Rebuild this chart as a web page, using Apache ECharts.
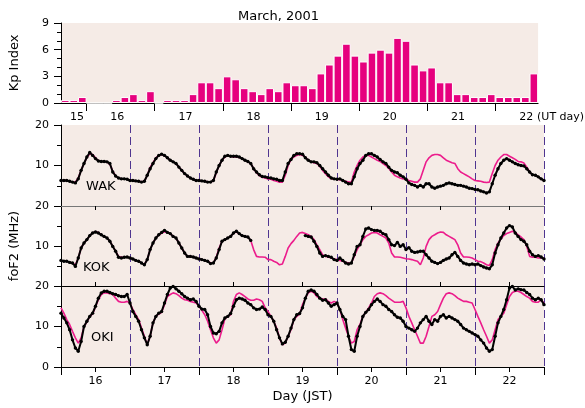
<!DOCTYPE html>
<html><head><meta charset="utf-8">
<script src="https://cdn.jsdelivr.net/npm/echarts@6/dist/echarts.min.js"></script>
<style>html,body{margin:0;padding:0;background:#fff}#c{width:585px;height:408px}</style>
</head><body><div id="c"></div>
<script>
// Kp index, 3-hour values, starting UT day 15 15h
const kpDays = ['15','16','17','18','19','20','21','22'];
const kpValues = [
 0.33,0.33,0.67,
 0,0,0,0.33,0.67,1.0,0.33,1.33,
 0,0.33,0.33,0.33,1.0,2.33,2.33,1.67,
 3.0,2.67,1.67,1.33,1.0,1.67,1.33,2.33,
 2.0,2.0,1.67,3.33,4.33,5.33,6.67,5.33,
 4.67,5.67,6.0,5.67,7.33,7.0,4.33,3.67,
 4.0,2.33,2.33,1.0,1.0,0.67,0.67,1.0,
 0.67,0.67,0.67,0.67,3.33
];
// foF2 (MHz), hourly, JST day 16 00h ... day 23 00h
const jstDays = ['16','17','18','19','20','21','22'];
const wakObs = [
 6.3,6.3,6.3,6.1,5.9,5.7,6.7,8.8,10.5,12.1,13.2,12.5,11.7,11.1,11.0,11.0,10.9,10.5,8.4,7.4,6.9,6.7,6.7,6.6,
 6.3,6.3,6.2,6.1,5.9,6.1,7.6,9.2,10.5,11.7,12.5,12.8,12.5,11.9,11.3,10.9,10.5,9.6,8.8,8.0,7.4,6.9,6.6,6.3,
 6.3,6.2,6.1,5.9,5.9,6.3,8.4,10.0,11.3,12.3,12.5,12.3,12.3,12.3,12.1,11.7,11.3,11.0,10.5,9.2,8.4,7.7,7.3,7.2,
 7.0,6.9,6.7,6.6,6.3,6.3,8.4,10.5,11.5,12.5,12.9,12.9,12.8,11.9,11.3,10.9,10.9,10.7,10.0,9.2,8.4,7.6,6.9,6.7,
 6.6,6.7,6.3,5.9,5.5,5.5,7.2,9.2,10.5,11.3,12.5,12.9,12.9,12.5,12.1,11.5,10.9,10.5,9.6,8.8,8.4,8.2,7.6,7.2,
 6.6,5.7,5.3,5.1,4.7,5.1,4.7,5.5,5.5,4.7,4.4,4.7,4.9,5.1,5.5,5.7,5.5,5.3,5.1,5.1,4.9,4.7,4.4,4.3,
 4.1,4.0,3.7,3.5,3.2,3.5,5.5,7.6,9.2,10.5,11.3,11.7,11.3,10.9,10.5,10.2,10.0,9.9,9.2,8.4,7.7,7.6,7.2,6.7,6.3
];
const wakModel = [
 6.3,6.3,6.3,6.1,5.9,5.9,6.9,8.8,10.5,12.0,12.9,12.7,11.9,11.1,11.0,11.0,10.9,10.3,8.6,7.4,6.9,6.7,6.7,6.6,
 6.4,6.3,6.2,6.1,6.0,6.1,7.6,9.5,10.7,11.9,12.5,12.7,12.4,11.9,11.3,10.9,10.5,9.6,8.8,8.0,7.4,6.9,6.6,6.4,
 6.3,6.2,6.1,6.0,5.9,6.2,8.2,10.0,11.3,12.1,12.5,12.3,12.1,12.1,12.0,11.7,11.3,10.9,10.5,9.2,8.2,7.5,7.1,6.9,
 6.7,6.6,6.3,6.1,5.9,5.9,7.6,10.0,11.5,12.1,12.5,12.7,12.5,12.1,11.3,10.9,10.7,10.5,9.8,8.8,8.0,7.2,6.8,6.6,
 6.6,6.5,6.3,6.1,5.9,5.9,8.4,10.0,11.3,12.1,12.5,12.5,12.1,11.7,11.3,11.0,10.5,10.0,9.3,8.4,7.6,7.2,6.9,6.7,
 6.6,6.3,6.1,5.9,5.9,6.7,8.8,10.9,11.9,12.5,12.7,12.7,12.5,11.9,11.3,11.0,10.7,10.5,9.2,8.4,8.0,7.6,7.2,6.7,
 6.3,6.2,6.1,5.9,5.8,5.9,8.0,10.0,11.3,12.1,12.7,12.7,12.3,11.9,11.5,11.0,10.9,10.6,9.6,8.4,7.7,7.6,7.2,6.7,6.3
];
const kokObs = [
 6.4,6.2,6.2,5.9,5.75,4.9,7.0,9.5,10.75,11.6,12.6,13.25,13.5,13.25,12.8,12.4,12.0,11.2,9.9,8.7,7.2,7.0,7.2,7.25,
 7.0,6.75,6.4,6.2,5.75,5.3,6.6,9.1,10.75,12.0,12.8,13.4,13.9,13.4,13.1,12.4,12.0,10.75,9.5,8.25,7.4,7.4,7.25,7.0,
 6.75,6.6,6.4,6.2,5.6,5.75,7.0,9.1,11.2,11.6,12.0,12.4,13.25,13.7,13.1,12.6,12.4,12.25,11.4,null,null,null,null,null,
 null,null,null,null,null,null,null,null,null,null,null,null,null,12.6,12.4,12.25,11.2,9.9,8.25,7.4,7.6,7.4,7.2,6.6,
 6.4,7.0,6.4,5.75,5.5,5.75,7.8,9.9,10.3,12.4,14.25,14.5,14.1,13.9,13.9,13.7,13.1,12.8,11.6,10.3,10.1,10.9,9.9,10.3,
 9.1,9.6,8.7,8.4,8.5,8.7,8.7,7.8,7.0,6.2,5.9,5.6,5.9,6.4,6.75,7.0,7.8,8.4,7.4,6.4,5.75,5.5,5.3,5.5,
 5.3,5.5,5.1,4.75,4.5,4.3,5.3,8.25,10.3,12.0,13.25,14.5,15.1,14.75,13.25,12.4,11.6,11.2,10.3,8.7,7.8,7.4,7.6,7.25,6.75
];
const kokModel = [
 6.4,6.2,6.2,5.9,5.75,5.2,7.0,9.5,10.75,11.6,12.6,13.25,13.6,13.4,12.8,12.4,12.0,11.2,9.9,8.7,7.4,7.2,7.2,7.25,
 7.0,6.75,6.4,6.2,5.75,5.4,6.6,9.1,10.75,12.0,12.8,13.2,13.6,13.5,13.1,12.4,12.0,10.75,9.5,8.25,7.4,7.4,7.25,7.0,
 6.75,6.6,6.4,6.2,5.8,5.75,7.2,9.5,11.2,11.6,12.0,12.4,13.25,13.5,13.1,12.6,12.4,12.25,11.4,9.1,7.4,7.25,7.25,7.2,
 6.6,6.6,6.2,5.9,5.3,5.5,7.4,9.5,10.6,11.4,12.4,13.25,13.4,13.1,12.8,12.4,11.6,10.3,9.1,7.8,7.4,7.25,7.0,6.75,
 6.6,6.4,6.2,5.9,5.75,5.75,7.4,9.1,10.3,11.6,12.4,12.8,13.25,13.4,13.25,12.8,12.4,12.0,10.75,8.25,7.25,7.25,7.2,7.0,
 6.8,6.75,6.6,6.4,6.2,5.3,7.0,9.9,11.6,12.4,12.8,13.25,13.5,13.4,12.8,12.4,12.0,11.6,10.3,8.25,7.25,7.25,7.2,7.0,
 6.6,6.2,6.1,5.75,5.3,5.1,6.6,9.1,10.75,11.75,12.6,13.1,13.4,13.7,13.4,12.8,12.25,11.6,9.9,7.4,7.2,7.2,7.0,7.0,7.0
];
const okiObs = [
 13.3,12.1,10.9,9.2,6.7,4.7,3.9,6.3,10.0,11.3,12.5,13.3,15.0,17.0,18.3,18.7,18.7,18.4,18.1,17.9,17.6,17.4,17.4,17.9,
 15.8,13.7,12.5,11.3,9.2,7.2,5.5,7.6,10.9,12.5,13.3,13.7,15.8,17.9,19.5,19.9,19.3,18.7,18.1,17.4,17.0,16.6,16.8,16.2,
 15.0,14.3,14.2,12.9,10.0,8.4,8.2,8.8,10.9,12.1,12.5,13.2,15.0,16.6,17.0,16.8,16.5,15.8,15.4,14.6,14.2,14.3,14.8,14.2,
 12.9,12.5,11.3,9.2,7.2,5.7,6.1,7.6,9.6,11.7,12.9,13.2,14.6,17.0,18.7,19.0,18.7,17.9,17.0,16.5,16.6,15.8,15.0,15.4,
 15.8,14.2,12.5,11.7,7.6,4.3,3.9,7.6,10.0,12.5,13.5,14.2,15.4,16.2,16.8,16.2,15.4,15.0,14.2,13.7,12.9,12.3,12.1,11.3,
 10.0,9.6,9.2,8.8,9.6,10.9,11.7,12.5,11.3,10.5,11.7,11.3,12.5,12.9,12.1,12.5,12.1,11.7,11.3,10.5,9.6,9.2,8.8,8.4,
 8.0,7.6,6.7,5.9,4.7,3.9,4.3,7.6,10.9,12.5,14.2,16.6,19.5,19.9,19.0,19.3,19.1,19.0,18.4,17.9,17.0,16.6,17.0,16.6,15.4
];
const okiModel = [
 14.6,13.3,11.7,10.5,8.8,7.2,5.9,7.2,10.0,11.1,12.5,13.1,14.9,16.6,17.9,18.3,18.3,18.1,17.9,17.0,16.2,16.0,16.0,16.2,
 15.8,14.2,12.9,11.7,9.6,7.6,5.5,7.6,10.9,12.5,13.1,13.5,15.4,17.4,17.9,18.3,18.1,17.6,17.0,16.6,16.5,16.2,16.0,15.8,
 15.0,14.0,12.9,11.3,9.2,7.2,5.9,6.7,9.2,11.9,12.5,12.9,16.2,17.9,18.3,17.9,17.4,16.8,16.5,16.5,16.8,16.6,16.2,14.6,
 13.7,12.5,11.3,9.6,7.2,5.5,5.9,7.6,9.2,11.7,12.5,13.0,15.4,17.0,18.3,18.7,18.3,17.4,17.0,16.8,16.8,16.2,15.8,16.2,
 15.8,14.2,11.7,9.6,7.6,5.9,6.3,9.2,10.5,12.5,13.5,14.6,15.8,17.4,18.1,18.3,18.1,17.6,17.0,16.5,16.0,16.0,16.0,16.2,
 14.6,12.5,10.9,9.2,7.6,5.9,5.9,7.6,10.0,12.5,12.9,13.7,15.4,17.0,18.1,18.3,18.1,17.6,17.0,16.6,16.2,16.2,16.0,15.8,
 14.2,12.5,10.9,9.2,7.6,5.9,6.7,9.2,11.7,12.5,13.3,15.4,17.4,18.4,18.7,18.7,18.4,17.9,17.4,17.0,16.2,16.0,16.0,16.6,15.8
];
const stations = ['WAK','KOK','OKI'];

const FONT = 'DejaVu Sans';
const BG = '#f5ebe6';
const PINK = '#ec1c8c';
const DASH = '#4f3590';

const kpData = kpValues.map((v, i) => [15 + (15 + 3 * i + 1.5) / 24, v]);
const toXY = arr => arr.map((v, i) => [i, v === null ? '-' : v]);

const grids = [
  {left: 61, top: 23, width: 483, height: 80},
  {left: 61, top: 125, width: 483, height: 81},
  {left: 61, top: 206, width: 483, height: 80},
  {left: 61, top: 286, width: 483, height: 81}
].map(g => Object.assign(g, {show: true, backgroundColor: BG, borderWidth: 0}));

const noonTicks = jstDays.map((d, i) => 12 + 24 * i);
const lbl = {fontFamily: FONT, fontSize: 11, color: '#000'};

function panelX(idx, opts) {
  return Object.assign({
    gridIndex: idx, type: 'value', min: 0, max: 168, interval: 24,
    axisLine: {show: true, lineStyle: {color: '#000', width: 1}},
    axisTick: {show: true, inside: false, length: 0.01, lineStyle: {color: '#000', width: 0.01}},
    minorTick: {show: true, splitNumber: 2, length: 4, lineStyle: {color: '#000', width: 1}},
    axisLabel: {show: false},
    splitLine: {show: true, lineStyle: {color: DASH, type: [8, 4], width: 1}}
  }, opts || {});
}
function panelY(idx, opts) {
  return Object.assign({
    gridIndex: idx, type: 'value', min: 0, max: 20, interval: 10,
    axisLine: {show: true, lineStyle: {color: '#000', width: 1}},
    axisTick: {show: true, length: 7, lineStyle: {color: '#000'}},
    minorTick: {show: true, splitNumber: 2, length: 4, lineStyle: {color: '#000'}},
    axisLabel: Object.assign({margin: 12, formatter: v => (idx < 3 && v === 0) ? '' : String(v)}, lbl),
    splitLine: {show: false}
  }, opts || {});
}

const option = {
  animation: false,
  backgroundColor: '#fff',
  textStyle: {fontFamily: FONT},
  title: {text: 'March, 2001', left: 233, top: 5,
    textStyle: {fontFamily: FONT, fontSize: 13, fontWeight: 'normal', color: '#000'}},
  grid: grids,
  xAxis: [
    {gridIndex: 0, type: 'value', min: 15.625, max: 22.625,
     axisLine: {show: true, lineStyle: {color: '#000'}},
     axisTick: {show: true, customValues: kpDays.slice(1).map(Number), length: 8, lineStyle: {color: '#000'}},
     axisLabel: Object.assign({customValues: kpDays.map(d => Number(d) === 15 ? 15.86 : Number(d) + 0.45),
       formatter: v => String(Math.floor(v)), margin: 9}, lbl),
     splitLine: {show: false},
     name: '(UT day)', nameLocation: 'end', nameGap: -2,
     nameTextStyle: Object.assign({verticalAlign: 'top', padding: [9, 0, 0, 0]}, lbl)},
    panelX(1, {axisLine: {show: true, lineStyle: {color: '#777', width: 1}}}),
    panelX(2, {axisTick: {show: true, inside: true, length: 0.01, lineStyle: {color: '#000', width: 0.01}}}),
    panelX(3, {
      axisTick: {show: true, length: 8, lineStyle: {color: '#000'}},
      minorTick: {show: true, splitNumber: 2, length: 5, lineStyle: {color: '#000'}},
      axisLabel: Object.assign({customValues: noonTicks, formatter: v => jstDays[Math.floor(v / 24)], margin: 9}, lbl),
      name: 'Day (JST)', nameLocation: 'middle', nameGap: 23,
      nameTextStyle: {fontFamily: FONT, fontSize: 13, color: '#000'}
    })
  ],
  yAxis: [
    {gridIndex: 0, type: 'value', min: 0, max: 9, interval: 3,
     axisLine: {show: true, lineStyle: {color: '#000'}},
     axisTick: {show: true, length: 7, lineStyle: {color: '#000'}},
     minorTick: {show: true, splitNumber: 3, length: 4, lineStyle: {color: '#000'}},
     axisLabel: Object.assign({margin: 12}, lbl),
     splitLine: {show: false},
     name: 'Kp Index', nameLocation: 'middle', nameGap: 40, nameRotate: 90,
     nameTextStyle: {fontFamily: FONT, fontSize: 13, color: '#000'}},
    panelY(1),
    panelY(2, {name: 'foF2 (MHz)', nameLocation: 'middle', nameGap: 40, nameRotate: 90,
      nameTextStyle: {fontFamily: FONT, fontSize: 13, color: '#000'}}),
    panelY(3)
  ],
  graphic: [
    {type: 'text', left: 86, top: 180, style: {text: stations[0], font: '13px "DejaVu Sans"', fill: '#000'}, z: 100},
    {type: 'text', left: 83, top: 261, style: {text: stations[1], font: '13px "DejaVu Sans"', fill: '#000'}, z: 100},
    {type: 'text', left: 91, top: 331, style: {text: stations[2], font: '13px "DejaVu Sans"', fill: '#000'}, z: 100}
  ],
  series: [
    {type: 'bar', xAxisIndex: 0, yAxisIndex: 0, data: kpData, barWidth: 8.6,
     itemStyle: {color: '#e6007e', borderColor: '#fff', borderWidth: 1}}
  ]
};

[[wakObs, wakModel], [kokObs, kokModel], [okiObs, okiModel]].forEach((pair, k) => {
  option.series.push({type: 'line', xAxisIndex: k + 1, yAxisIndex: k + 1, data: toXY(pair[1]),
    showSymbol: false, lineStyle: {color: PINK, width: 1.6}, z: 3});
  option.series.push({type: 'line', xAxisIndex: k + 1, yAxisIndex: k + 1, data: toXY(pair[0]),
    symbol: 'circle', symbolSize: 3.4, showSymbol: true, connectNulls: false,
    itemStyle: {color: '#000'}, lineStyle: {color: '#000', width: 2}, z: 4});
});

const chart = echarts.init(document.getElementById('c'), null, {renderer: 'canvas'});
chart.setOption(option);
</script></body></html>
